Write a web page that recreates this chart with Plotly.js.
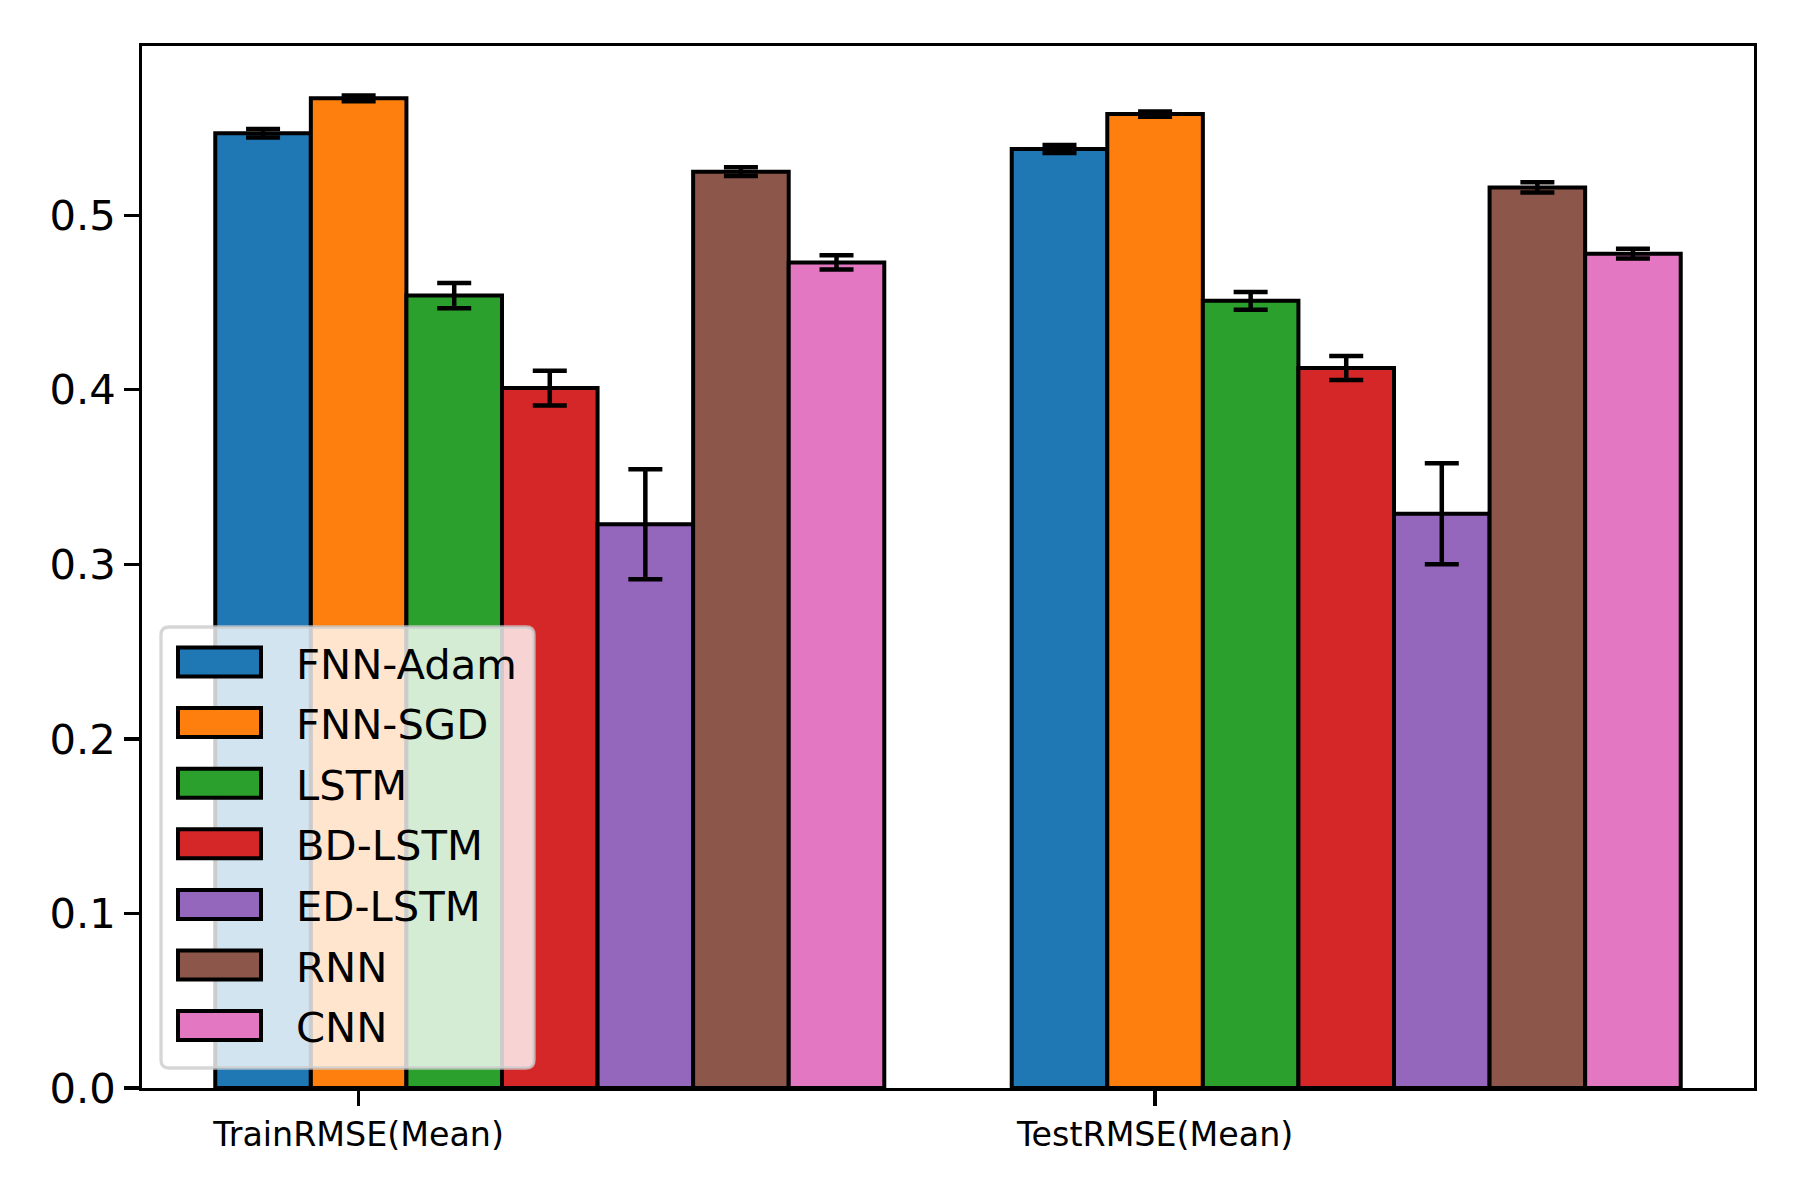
<!DOCTYPE html>
<html>
<head>
<meta charset="utf-8">
<script src="https://cdn.plot.ly/plotly-3.0.1.min.js"></script>
<style>
  html, body { margin: 0; padding: 0; background: #fff; }
  #chart { width: 1800px; height: 1200px; }
</style>
</head>
<body>
<div id="chart"></div>
<script>
// RMSE (mean +/- error) of seven models, train and test.
const groups = ['TrainRMSE(Mean)', 'TestRMSE(Mean)'];
const models = ['FNN-Adam', 'FNN-SGD', 'LSTM', 'BD-LSTM', 'ED-LSTM', 'RNN', 'CNN'];
const trainMean = [0.547, 0.567, 0.454, 0.401, 0.323, 0.525, 0.473];
const trainErr = [0.0024, 0.0016, 0.0072, 0.0100, 0.0315, 0.0025, 0.0041];
const testMean = [0.538, 0.558, 0.451, 0.4125, 0.329, 0.516, 0.478];
const testErr = [0.0023, 0.0015, 0.0051, 0.0069, 0.0289, 0.0029, 0.0028];
const colors = ['#1f77b4', '#ff7f0e', '#2ca02c', '#d62728', '#9467bd', '#8c564b', '#e377c2'];

const W = 1800, H = 1200;
const margin = { l: 142, r: 46, t: 46, b: 112 };
const barWidth = 0.12;
const FONT = 'DejaVu Sans, sans-serif';
const fs = 41.7;   // 10pt at 300 dpi

// pixel -> paper helpers for the hand-built legend
const plotW = W - margin.l - margin.r;
const plotH = H - margin.t - margin.b;
const px2x = (px) => (px - margin.l) / plotW;
const py2y = (py) => (H - margin.b - py) / plotH;

const traces = models.map((name, i) => ({
  type: 'bar',
  name: name,
  x: groups.map((g, gi) => gi + i * barWidth),
  y: [trainMean[i], testMean[i]],
  width: barWidth,
  marker: { color: colors[i], line: { color: '#000', width: 4 } },
  error_y: {
    type: 'data',
    array: [trainErr[i], testErr[i]],
    visible: true,
    color: '#000',
    thickness: 4.5,
    width: 17,
  },
  showlegend: false,
  hoverinfo: 'name+y',
}));

// legend: box, patches and labels, matplotlib-like
const shapes = [];
const annotations = [];
const boxL = px2x(161), boxR = px2x(534), boxT = py2y(627), boxB = py2y(1068);
const rx = 8 / plotW, ry = 8 / plotH;
shapes.push({
  type: 'path', xref: 'paper', yref: 'paper', layer: 'above',
  path: `M${boxL + rx},${boxB} L${boxR - rx},${boxB} Q${boxR},${boxB} ${boxR},${boxB + ry} ` +
        `L${boxR},${boxT - ry} Q${boxR},${boxT} ${boxR - rx},${boxT} ` +
        `L${boxL + rx},${boxT} Q${boxL},${boxT} ${boxL},${boxT - ry} ` +
        `L${boxL},${boxB + ry} Q${boxL},${boxB} ${boxL + rx},${boxB} Z`,
  fillcolor: 'rgba(255,255,255,0.8)',
  line: { color: 'rgba(204,204,204,0.8)', width: 3.3 },
});
models.forEach((name, i) => {
  const cy = 662 + i * 60.6;
  shapes.push({
    type: 'rect', xref: 'paper', yref: 'paper', layer: 'above',
    x0: px2x(178), x1: px2x(261), y0: py2y(cy + 14.5), y1: py2y(cy - 14.5),
    fillcolor: colors[i],
    line: { color: '#000', width: 4 },
  });
  annotations.push({
    xref: 'paper', yref: 'paper', x: px2x(294), y: py2y(cy + 2),
    xanchor: 'left', yanchor: 'middle', showarrow: false,
    text: name,
    font: { family: FONT, size: fs, color: '#000' },
  });
});

const layout = {
  width: W,
  height: H,
  autosize: false,
  margin: margin,
  paper_bgcolor: '#fff',
  plot_bgcolor: '#fff',
  font: { family: FONT, size: fs, color: '#000' },
  barmode: 'overlay',
  showlegend: false,
  xaxis: {
    type: 'linear',
    range: [-0.152, 1.872],
    tickvals: groups.map((g, gi) => gi + barWidth),
    ticktext: groups,
    tickfont: { family: FONT, size: 33.3, color: '#000' },
    ticks: 'outside',
    ticklen: 14.6,
    tickwidth: 3.3,
    tickcolor: '#000',
    showline: true,
    linecolor: '#000',
    linewidth: 3.3,
    mirror: true,
    showgrid: false,
    zeroline: false,
  },
  yaxis: {
    range: [0, 0.597],
    tickvals: [0, 0.1, 0.2, 0.3, 0.4, 0.5],
    ticktext: ['0.0', '0.1', '0.2', '0.3', '0.4', '0.5'],
    tickfont: { family: FONT, size: fs, color: '#000' },
    ticks: 'outside',
    ticklen: 14.6,
    tickwidth: 3.3,
    tickcolor: '#000',
    showline: true,
    linecolor: '#000',
    linewidth: 3.3,
    mirror: true,
    showgrid: false,
    zeroline: false,
  },
  shapes: shapes,
  annotations: annotations,
};

Plotly.newPlot('chart', traces, layout, { displayModeBar: false, staticPlot: true });
</script>
</body>
</html>
